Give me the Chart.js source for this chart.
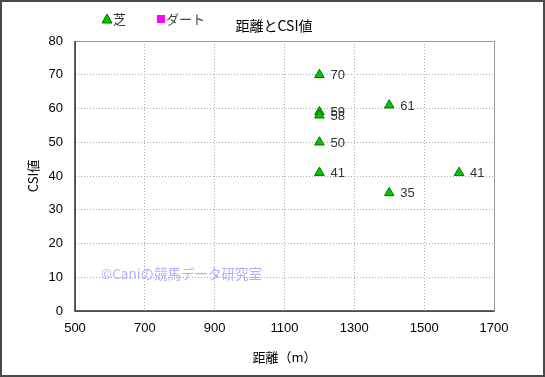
<!DOCTYPE html>
<html>
<head>
<meta charset="utf-8">
<script src="https://cdn.jsdelivr.net/npm/chart.js@4.4.1/dist/chart.umd.min.js"></script>
<style>
  html, body { margin: 0; padding: 0; background: #fff; }
  #wrap { width: 545px; height: 377px; position: relative; box-sizing: border-box; border: 2px solid #4a4a4a; }
  #chart { position: absolute; left: -2px; top: -2px; }
</style>
</head>
<body>
<div id="wrap"><canvas id="chart" width="545" height="377"></canvas></div>
<script>
const turfDistance = [1200, 1200, 1200, 1200, 1200, 1400, 1400, 1600];
const turfCSI = [70, 59, 58, 50, 41, 61, 35, 41];
const dirtDistance = [];
const dirtCSI = [];
const xTicks = [500, 700, 900, 1100, 1300, 1500, 1700];
const yTicks = [0, 10, 20, 30, 40, 50, 60, 70, 80];

const FONT = "'Liberation Sans', 'Noto Sans CJK JP', sans-serif";
const JFONT = "'Noto Sans CJK JP', sans-serif";

function toPoints(xs, ys) {
  return xs.map((x, i) => ({ x: x, y: ys[i] }));
}

// 枠線・タイトル・凡例・データラベル・透かし
const extras = {
  id: "extras",
  beforeDatasetsDraw(chart) {
    const ctx = chart.ctx;
    const a = chart.chartArea;
    ctx.save();
    ctx.strokeStyle = "#999";
    ctx.lineWidth = 1;
    ctx.strokeRect(a.left + 0.5, a.top + 0.5, a.right - a.left, a.bottom - a.top);
    ctx.strokeStyle = "#333";
    ctx.lineWidth = 1.5;
    ctx.beginPath();
    ctx.moveTo(a.left, a.top);
    ctx.lineTo(a.left, a.bottom);
    ctx.lineTo(a.right, a.bottom);
    ctx.stroke();
    // 透かし
    ctx.fillStyle = "rgba(150,150,255,0.75)";
    ctx.font = "13.5px " + JFONT;
    ctx.textBaseline = "middle";
    ctx.fillText("©Caniの競馬データ研究室", a.left + 26, a.bottom - 37);
    ctx.restore();
  },
  afterDatasetsDraw(chart) {
    const ctx = chart.ctx;
    ctx.save();
    ctx.font = "13px " + FONT;
    ctx.fillStyle = "#333";
    ctx.textBaseline = "middle";
    chart.data.datasets.forEach((ds, di) => {
      const meta = chart.getDatasetMeta(di);
      meta.data.forEach((pt, i) => {
        ctx.fillText(String(ds.data[i].y), pt.x + 11, pt.y + 1);
      });
    });
    // タイトル
    ctx.font = "14px " + JFONT;
    ctx.fillStyle = "#000";
    ctx.textAlign = "center";
    ctx.fillText("距離とCSI値", 274, 26);
    ctx.textAlign = "left";
    // 凡例
    ctx.font = "13px " + JFONT;
    ctx.beginPath();
    ctx.moveTo(107, 14);
    ctx.lineTo(112, 23);
    ctx.lineTo(102, 23);
    ctx.closePath();
    ctx.fillStyle = "#00c800";
    ctx.fill();
    ctx.strokeStyle = "#007000";
    ctx.lineWidth = 1;
    ctx.stroke();
    ctx.fillStyle = "#333";
    ctx.fillText("芝", 113, 19);
    ctx.fillStyle = "#ff00ff";
    ctx.fillRect(157, 15, 8, 8);
    ctx.fillStyle = "#444";
    ctx.fillText("ダート", 166, 19);
    ctx.restore();
  }
};

new Chart(document.getElementById("chart"), {
  type: "scatter",
  data: {
    datasets: [
      {
        label: "芝",
        data: toPoints(turfDistance, turfCSI),
        pointStyle: "triangle",
        pointRadius: 5.5,
        backgroundColor: "#00c800",
        borderColor: "#007000",
        borderWidth: 1
      },
      {
        label: "ダート",
        data: toPoints(dirtDistance, dirtCSI),
        pointStyle: "rect",
        pointRadius: 5,
        backgroundColor: "#ff00ff",
        borderColor: "#ff00ff"
      }
    ]
  },
  options: {
    responsive: false,
    animation: false,
    layout: { padding: { left: 25, right: 51, top: 41, bottom: 12 } },
    plugins: {
      legend: { display: false },
      tooltip: { enabled: false },
      title: { display: false }
    },
    scales: {
      x: {
        type: "linear",
        min: 500,
        max: 1700,
        afterBuildTicks: (s) => { s.ticks = xTicks.map((v) => ({ value: v })); },
        afterFit: (s) => { s.height = 54; },
        grid: { color: "#aaa", drawTicks: false },
        border: { display: false, dash: [1, 2] },
        ticks: { color: "#000", font: { family: FONT, size: 13 }, padding: 10, callback: (v) => String(v) },
        title: {
          display: true,
          text: "距離（m）",
          color: "#000",
          font: { family: JFONT, size: 13 },
          padding: { top: 10, bottom: 0 }
        }
      },
      y: {
        min: 0,
        max: 80,
        afterBuildTicks: (s) => { s.ticks = yTicks.map((v) => ({ value: v })); },
        afterFit: (s) => { s.width = 50; },
        grid: { color: "#aaa", drawTicks: false },
        border: { display: false, dash: [1, 2] },
        ticks: { color: "#000", font: { family: FONT, size: 13 }, padding: 12, callback: (v) => String(v) },
        title: {
          display: true,
          text: "CSI値",
          color: "#000",
          font: { family: JFONT, size: 13 },
          padding: { top: 0, bottom: 0 }
        }
      }
    }
  },
  plugins: [extras]
});
</script>
</body>
</html>
